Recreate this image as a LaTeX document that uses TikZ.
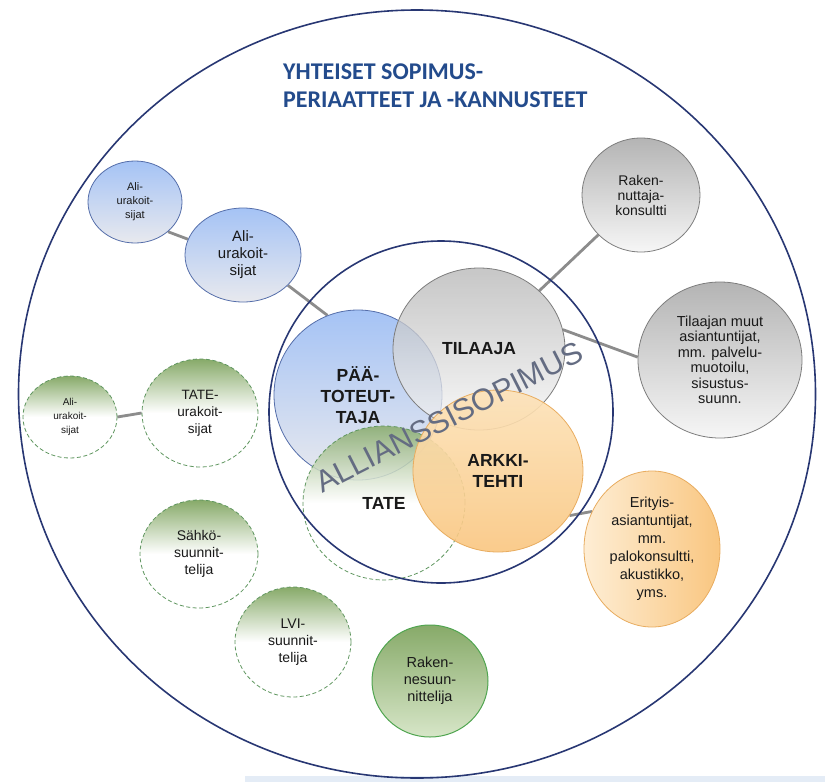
\documentclass[tikz,border=0pt]{standalone}
\usepackage{fontspec}
\setmainfont{Liberation Sans}
\newfontfamily\titlefont{Carlito}
\usetikzlibrary{shapes.geometric}
\pgfdeclarelayer{bg}
\pgfsetlayers{bg,main}
\definecolor{navy}{RGB}{40,55,115}
\definecolor{titleblue}{RGB}{35,75,140}
\definecolor{blueline}{RGB}{85,110,170}
\definecolor{bluetop}{RGB}{165,195,245}
\definecolor{bluebot}{RGB}{232,233,238}
\definecolor{greyline}{RGB}{125,125,125}
\definecolor{greytop}{RGB}{180,180,180}
\definecolor{greybot}{RGB}{246,246,246}
\definecolor{orline}{RGB}{232,172,95}
\definecolor{ortop}{RGB}{253,226,184}
\definecolor{orbot}{RGB}{249,198,128}
\definecolor{grline}{RGB}{95,150,95}
\definecolor{grtop}{RGB}{135,170,105}
\definecolor{grsolid}{RGB}{80,165,80}
\definecolor{grbot}{RGB}{215,230,200}
\definecolor{conncol}{RGB}{140,140,140}
\definecolor{txt}{RGB}{25,25,25}
\definecolor{alltxt}{RGB}{100,108,130}
\definecolor{strip}{RGB}{228,236,246}
\tikzset{
  bub/.style={ellipse, inner sep=0pt, align=center, text=txt, line width=0.8pt},
  blueb/.style={bub, draw=blueline, top color=bluetop, bottom color=bluebot},
  greyb/.style={bub, draw=greyline, top color=greytop, bottom color=greybot},
  orangeb/.style={bub, draw=orline, top color=ortop, bottom color=orbot},
  gdash/.style={bub, draw=grline, dash pattern=on 4pt off 2.5pt, top color=grtop, bottom color=white, middle color=white},
  gsolid/.style={bub, draw=grsolid, line width=1pt, top color=grtop, bottom color=grbot},
  bigfont/.style={font=\bfseries\fontsize{17.5}{21}\selectfont},
  conn/.style={draw=conncol, line width=2.8pt},
  ring/.style={ellipse, draw=navy, line width=1.6pt, inner sep=0pt},
  allfont/.style={rotate=27, font=\fontsize{30.5}{31}\selectfont, inner sep=0pt}
}
\begin{document}
\begin{tikzpicture}[x=1pt,y=-1pt]
\useasboundingbox (0,0) rectangle (825,782);
\fill[strip] (245,776) rectangle (825,782);

% outer ring
\node[ring, minimum width=797, minimum height=768] (outer) at (417,394) {};

% title
\node[anchor=north west, inner sep=0pt, align=left, text=titleblue,
      font=\titlefont\bfseries\fontsize{24}{28}\selectfont] (title) at (283,64)
      {YHTEISET SOPIMUS-\\PERIAATTEET JA -KANNUSTEET};

% blue subcontractor bubbles
\node[blueb, minimum width=94, minimum height=82, font=\fontsize{11}{14}\selectfont] (ali1) at (135,202) {Ali-\\urakoit-\\sijat};
\node[blueb, minimum width=116, minimum height=94, font=\fontsize{15}{17}\selectfont] (ali2) at (243,255) {Ali-\\urakoit-\\sijat};

% green dashed bubbles
\node[gdash, minimum width=94, minimum height=82, font=\fontsize{10}{14}\selectfont] (ali3) at (70,417) {Ali-\\urakoit-\\sijat};
\node[gdash, minimum width=116, minimum height=108, font=\fontsize{13.5}{17}\selectfont] (tateu) at (200,413) {TATE-\\urakoit-\\sijat};
\node[gdash, minimum width=118, minimum height=108, font=\fontsize{14}{17}\selectfont] (sahko) at (199,554) {Sähkö-\\suunnit-\\telija};
\node[gdash, minimum width=116, minimum height=110, font=\fontsize{14}{17}\selectfont] (lvi) at (293,642) {LVI-\\suunnit-\\telija};
\node[gsolid, minimum width=116, minimum height=112, font=\fontsize{14.5}{17}\selectfont] (rakenne) at (430,681) {Raken-\\nesuun-\\nittelija};

% grey bubbles
\node[greyb, minimum width=118, minimum height=114, font=\fontsize{14}{15}\selectfont] (rakennut) at (641,195) {Raken-\\nuttaja-\\konsultti};
\node[greyb, minimum width=164, minimum height=156, font=\fontsize{14.5}{15.5}\selectfont] (muut) at (720,360) {Tilaajan muut\\asiantuntijat,\\mm. palvelu-\\muotoilu,\\sisustus-\\suunn.};

% orange outside bubble
\node[bub, draw=orline, left color=ortop!60!white, right color=orbot, minimum width=136, minimum height=156, font=\fontsize{14.5}{18}\selectfont] (erit) at (652,549) {Erityis-\\asiantuntijat,\\mm.\\palokonsultti,\\akustikko,\\yms.};

% alliance core
\node[blueb, minimum width=168, minimum height=170, bigfont] (paa) at (358,395) {PÄÄ-\\TOTEUT-\\TAJA};
\node[gdash, fill opacity=0.85, minimum width=162, minimum height=154, bigfont, text opacity=1] (tate) at (384,503) {TATE};
\node[greyb, fill opacity=0.75, text opacity=1, minimum width=172, minimum height=162, bigfont] (tilaaja) at (479,349) {TILAAJA};
\node[orangeb, fill opacity=0.9, text opacity=1, minimum width=170, minimum height=162, bigfont] (ark) at (498,471) {ARKKI-\\TEHTI};

% inner ring
\node[ring, minimum width=344, minimum height=342] (inner) at (441,412) {};

% ALLIANSSISOPIMUS
\node[allfont, text=alltxt] (alltext) at (449,417) {ALLIANSSISOPIMUS};

% connectors
\begin{pgfonlayer}{bg}
\draw[conn] (ali1.-42) -- (ali2.164);
\draw[conn] (ali2.-34) -- (paa.111);
\draw[conn] (ali3.0) -- (tateu.180);
\draw[conn] (tilaaja.44) -- (rakennut.-137);
\draw[conn] (tilaaja.13) -- (muut.178);
\draw[conn] (ark.-32) -- (erit.148);
\end{pgfonlayer}
\end{tikzpicture}
\end{document}
